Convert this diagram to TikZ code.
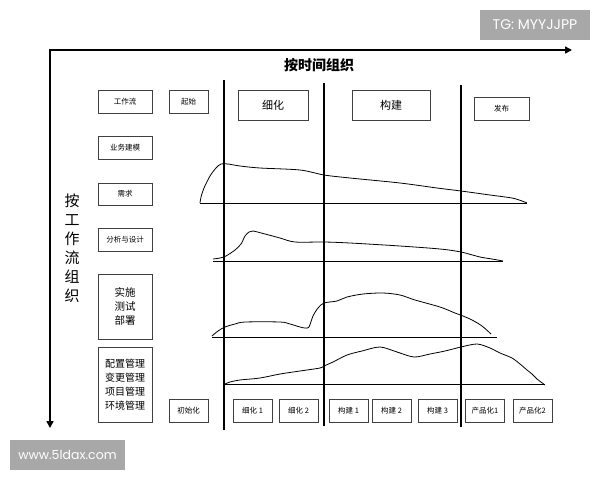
\documentclass[tikz,border=0pt]{standalone}
\usepackage{fontspec}
\setmainfont{Noto Sans CJK SC}
\newfontfamily\wmfont{Poppins}
\usetikzlibrary{arrows.meta}
\tikzstyle{axis}=[line width=1.6pt,{Triangle[length=7pt,width=7pt]}-{Triangle[length=7pt,width=7pt]}]
\tikzstyle{phase}=[line width=1.6pt]
\tikzstyle{rowline}=[line width=1pt]
\tikzstyle{effort}=[line width=0.8pt]
\tikzstyle{taskbox}=[draw=black!75,line width=0.7pt,inner sep=0pt,font=\fontsize{7.5}{9}\selectfont]
\tikzstyle{bigbox}=[taskbox,font=\fontsize{11}{13}\selectfont]
\tikzstyle{tallbox}=[taskbox,font=\fontsize{10.5}{14}\selectfont]
\tikzstyle{watermark}=[fill=black!34,text=white,inner sep=0pt]
\newcommand{\iterbox}[3]{% Syntax: {name}{x centre}{label}
  \node[taskbox,minimum width=39pt,minimum height=23pt] (#1) at (#2,410.5) {#3};
}
\newcommand{\flowbox}[4][minimum height=23pt]{% Syntax: [options]{name}{y centre}{label}
  \node[taskbox,align=center,minimum width=54pt,#1] (#2) at (125,#3) {#4};
}

\begin{document}
\begin{tikzpicture}[x=1pt,y=-1pt]
	\useasboundingbox (0,0) rectangle (600,480);
	% axes
	\coordinate (origin) at (50,50);
	\coordinate (timeend) at (572,50);
	\coordinate (flowend) at (50,428);
	\draw[axis] (timeend) -- (origin) -- (flowend);
	\node[font=\bfseries\fontsize{14}{16}\selectfont] (timetitle) at (319,65) {按时间组织};
	\node[align=center,font=\fontsize{15}{19}\selectfont] (flowtitle) at (72,248) {按\\工\\作\\流\\组\\织};
	% phase separators
	\draw[phase] (224,80) -- (224,430);
	\draw[phase] (324,83) -- (324,426);
	\draw[phase] (461,85) -- (461,427);
	% workflows
	\flowbox{wf}{101.5}{工作流}
	\flowbox{bm}{147.5}{业务建模}
	\flowbox[minimum height=22pt]{req}{194}{需求}
	\flowbox{ad}{239.5}{分析与设计}
	\flowbox[tallbox,minimum height=65pt]{itd}{306.5}{实施\\测试\\部署}
	\flowbox[tallbox,font=\fontsize{10}{14}\selectfont,minimum height=75pt]{cm}{384.5}{配置管理\\变更管理\\项目管理\\环境管理}
	% phases
	\node[taskbox,minimum width=39pt,minimum height=23pt] (start) at (188.5,101.5) {起始};
	\node[bigbox,minimum width=70pt,minimum height=30pt] (elab) at (273,105) {细化};
	\node[bigbox,minimum width=78pt,minimum height=30pt] (constr) at (391,105) {构建};
	\node[taskbox,minimum width=55pt,minimum height=23pt] (trans) at (501.5,108.5) {发布};
	% iterations
	\iterbox{init}{188.5}{初始化}
	\iterbox{elabA}{252.5}{细化 1}
	\iterbox{elabB}{298.5}{细化 2}
	\iterbox{constrA}{348.5}{构建 1}
	\iterbox{constrB}{391.5}{构建 2}
	\iterbox{constrC}{437.5}{构建 3}
	\iterbox{transA}{485}{产品化1}
	\iterbox{transB}{532.5}{产品化2}
	% effort curves
	\draw[rowline] (200,203) -- (527,203);
	\draw[effort] plot[smooth,tension=0.5] coordinates {(200,203) (201,197) (204,188) (210,176) (216,168) (221,164) (228,164) (240,166) (260,168) (300,170) (324,175) (350,178) (400,183) (437,188) (461,191) (490,195) (512,198) (522,201) (527,203)};
	\draw[rowline] (213,261) -- (503,261);
	\draw[effort] plot[smooth,tension=0.5] coordinates {(213,259) (220,258) (226,256) (235,250) (241,244) (245,236) (249,232) (253,231) (265,234) (280,238) (295,242) (324,242) (350,243) (400,246) (440,249) (461,252) (480,257) (492,259) (503,261)};
	\draw[rowline] (212,337) -- (497,337);
	\draw[effort] plot[smooth,tension=0.5] coordinates {(212,336) (218,331) (225,327) (235,324) (245,322) (280,322) (290,324) (300,327) (305,328) (309,327) (313,316) (318,308) (324,303) (337,301) (347,297) (363,294) (383,293) (400,295) (415,300) (440,307) (455,313) (463,316) (472,320) (482,326) (491,334)};
	\draw[rowline] (225,384) -- (545,384);
	\draw[effort] plot[smooth,tension=0.5] coordinates {(225,384) (230,382) (240,380) (260,378) (280,374) (300,371) (320,368) (324,366) (333,362) (347,355) (362,351) (380,347) (397,352) (414,357) (430,354) (445,351) (461,347) (477,344) (490,348) (500,353) (512,358) (520,364) (527,370) (532,374) (537,379) (545,385)};
	% watermarks
	\node[watermark,font=\wmfont\fontsize{14}{16}\selectfont,minimum width=110pt,minimum height=30pt] (tg) at (535,25) {TG: MYYJJPP};
	\node[watermark,font=\wmfont\fontsize{12.5}{14}\selectfont,minimum width=115pt,minimum height=30pt] (site) at (67.5,455) {www.5ldax.com};
\end{tikzpicture}
\end{document}
